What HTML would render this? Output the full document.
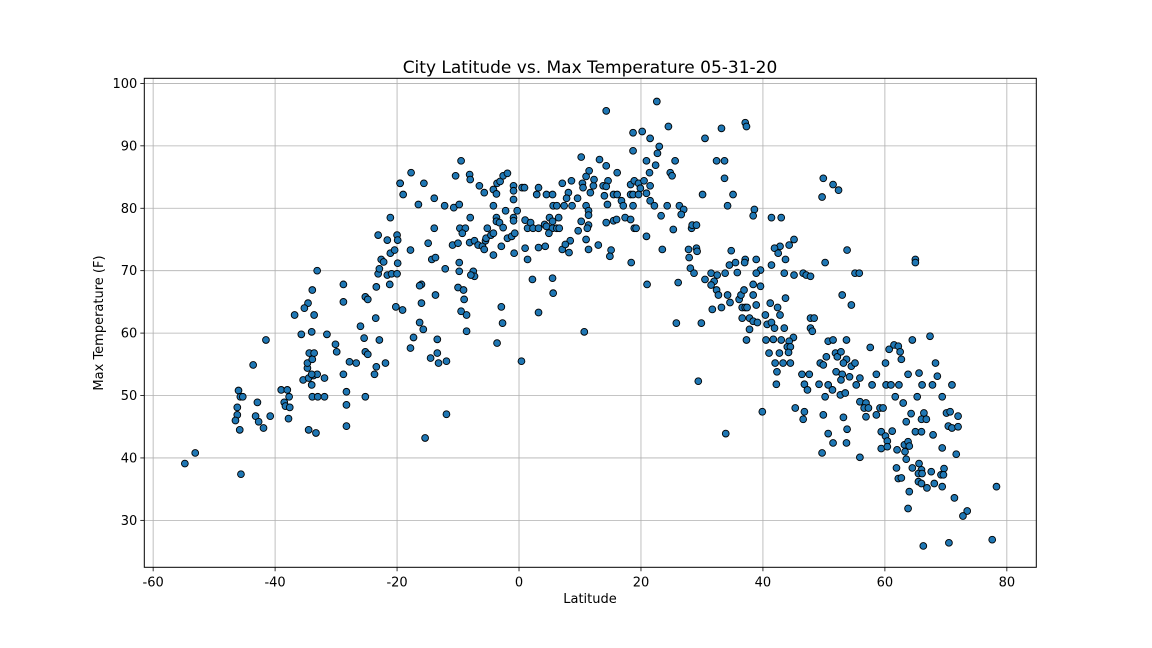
<!DOCTYPE html>
<html><head><meta charset="utf-8"><style>
body{margin:0;background:#fff;}
svg{display:block;font-family:"DejaVu Sans","Liberation Sans",sans-serif;}
</style></head><body>
<svg id="chart" width="1152" height="648" viewBox="0 0 1152 648" xmlns="http://www.w3.org/2000/svg">
<rect width="1152" height="648" fill="#fff"/>
<g id="grid"></g>
<g id="pts"></g>
<rect x="144.3" y="78.3" width="892" height="489" fill="none" stroke="#000" stroke-width="1"/>
<g id="ticks"></g>
<text x="590" y="73" font-size="17" text-anchor="middle">City Latitude vs. Max Temperature 05-31-20</text>
<text x="590" y="603" font-size="13" text-anchor="middle">Latitude</text>
<text x="103" y="323" font-size="13" text-anchor="middle" transform="rotate(-90 103 323)">Max Temperature (F)</text>
</svg>
<script>
const xTicks=[-60,-40,-20,0,20,40,60,80];
const yTicks=[30,40,50,60,70,80,90,100];
const lats=[-54.8,-53.1,-45.6,-46,-45.7,-45.3,-46.2,-46.2,-46.5,-45.8,-43.6,-41.5,-42.9,-43.2,-42.7,-41.9,-40.8,-39,-38,-38.5,-38.3,-37.6,-37.7,-37.8,-34.5,-33.3,-35.4,-34.5,-34,-33.7,-33.1,-34,-31.9,-33.9,-33,-31.9,-34.7,-34.7,-33.9,-34.4,-33.6,-31.5,-35.7,-34,-30.1,-29.9,-28.8,-28.3,-28.3,-28.3,-27.8,-26.7,-28.8,-28.8,-33.1,-33.9,-34.6,-35.2,-33.6,-36.8,-25.2,-25.4,-25.2,-24.8,-26,-23.5,-22.9,-23.4,-23.7,-21.9,-25.2,-24.8,-23.4,-21.2,-23.1,-22.9,-22.6,-22.2,-21.6,-20.9,-20,-19.9,-23.1,-21.6,-21.1,-20.4,-21.1,-20,-19.9,-19.5,-20.2,
-19.1,-19.5,-19,-17.7,-16.5,-15.6,-13.9,-12.2,-10.4,-9.5,-10.7,-9.8,-8.1,-8,-6.5,-5.7,-4.2,-3.7,-3.6,-3.1,-2.6,-1.9,-4.2,-0.9,-0.9,-0.9,-0.3,-2.2,0.5,0.9,2.9,3.2,4.5,5.5,5.6,6.2,7.1,8.1,8.6,7.4,7.8,8.7,9.6,10.2,10.4,10.5,11,11.5,12.2,12.3,11.7,13.2,11,11.4,11.4,11.4,11.2,10.2,9.7,11,11.4,13,8.4,8.2,7.1,7.6,10.7,-13.9,-14.9,-17.8,-14.3,-13.7,-12.1,-9.8,-9.8,-9.7,-8.8,-9.3,-8,
-10.9,-10,-8.1,-7.3,-6.7,-6,-5.7,-5.2,-5.5,-5.4,-4.6,-4.2,-3.7,-3.7,-3.2,-2.6,-1.9,-1.2,-0.7,-0.9,-0.9,-2.9,-4.2,-0.8,1,1.4,1.9,2.3,3.2,4.2,4.5,5,5.5,5.5,6.2,6.5,6.6,4.9,1,1.4,3.2,4.3,2.2,5.5,5.6,3.2,-2.9,-2.7,-3.6,0.4,-7.5,-7.3,-7.9,-10,-9.1,-9,-13.7,-16,-16.3,-16,-9.5,-8.6,-8.6,-16.3,-15.7,-17.3,-17.8,-13.4,-13.4,-14.5,-13.2,-11.9,-11.9,-15.4,
22.6,14.3,18.7,20.2,21.5,23,22.7,22.4,21.4,24.5,18.7,20.9,25.6,24.8,25.1,14.3,16.1,14.6,13.8,14.3,14,14.5,15.5,16.1,16.8,17.1,18.3,18.9,19.6,19.9,20.5,21.5,20.9,18.3,18.7,19.6,18.7,21.5,22.2,24.3,26.3,27,26.6,23.3,14.3,15.5,16,17.4,18.3,18.9,19.2,20.9,25.3,28.3,28.4,29.1,15.1,14.9,18.4,23.5,27.8,29.1,29.2,27.9,28.1,28.7,21,26.1,30.5,33.2,37.1,37.3,32.4,33.7,33.7,35.1,34.2,30.1,38.6,38.4,34.8,34.5,35.5,35.8,33.8,37.1,37,38.9,39.6,38.9,
30.5,31.5,32,31.5,32.5,32.4,32.7,31.7,33.2,34.2,34.6,36.1,36.4,36.9,38.4,39.6,38.4,38.9,36.6,37.1,37.4,36.6,37.8,38.4,39.1,37.8,37.3,25.8,29.9,29.4,33.9,39.9,
49.9,51.5,52.4,49.7,41.4,43,45.1,44.3,42.8,41.9,42.5,43.7,41.4,43.5,45.1,46.6,47.1,47.8,53.8,50.2,55.1,55.8,43.7,41.2,42.4,42.8,40.4,40.7,41.4,41.9,43.5,47.8,48.4,47.8,48.1,53,54.5,40.5,41.7,43,45,44.3,44,44.5,44.2,42.7,41,42,43.3,44.5,42.3,42.2,46.4,47.6,46.8,47.3,49.2,50.7,51.4,50.2,52.7,53.5,
50.7,51.5,53.7,51.9,52.2,52.8,53.7,53.2,54.5,55.1,49.4,49.9,50.4,52,53,52.8,54.2,55.3,55.9,57.9,58.6,60.2,60.1,57.6,60.7,45.3,46.8,46.6,49.9,53.2,53.8,50.7,51.5,53.7,49.7,55.9,56.9,56.6,57.3,56.9,58.6,59.2,59.7,55.9,59.4,60.1,60.4,59.4,
65,65,64.5,67.4,61.5,62.2,62.5,62.7,68.3,63.8,65.6,68.6,61,62.3,66.1,67.8,71,61.7,65.3,69.4,63,64.3,66.4,66,66.8,70.1,70.7,72,63.5,61.2,65,66,67.9,70.4,71,72,60.4,63.2,63.8,64,62,63.3,63.5,69.4,71.7,
61.9,64.5,65.6,66,65.5,66.1,67.6,69.7,69.2,69.6,62.2,62.7,65.5,66,66.9,68.1,69.4,64,71.4,63.8,73.5,72.8,78.3,66.3,70.5,77.6];
const temps=[39.1,40.8,37.4,50.8,49.8,49.8,48.1,46.9,46,44.5,54.9,58.9,48.9,46.7,45.8,44.8,46.7,50.9,50.9,48.9,48.3,48.1,49.8,46.3,44.5,44,52.5,52.8,51.7,53.2,53.4,53.4,52.8,49.8,49.8,49.8,54.4,55.2,55.8,56.8,56.8,59.8,59.8,60.2,58.2,57,53.4,50.6,48.5,45.1,55.4,55.2,65,67.8,70,66.9,64.8,64,62.9,62.9,49.8,59.2,57,56.6,61.1,62.4,58.9,54.6,53.4,55.2,65.8,65.4,67.4,67.8,69.5,70.3,71.8,71.4,69.3,69.5,69.5,71.2,75.7,74.9,72.8,73.3,78.5,75.7,74.9,84,64.2,
63.7,84,82.2,85.7,80.6,84,81.6,80.4,85.2,87.6,80.1,80.6,85.4,84.6,83.6,82.5,83,82.3,84,84.3,85.2,85.6,80.4,83.6,82.8,81.4,79.6,79.6,83.3,83.3,82.2,83.3,82.2,82.2,80.4,80.4,84,82.5,84.4,80.4,81.6,80.4,81.6,88.2,84,83.3,85.1,86,83.6,84.6,82.5,87.8,80.4,79.6,78.9,77.3,76.8,77.9,76.4,75,73.4,74.1,74.8,72.9,73.4,74.2,60.2,76.8,74.4,73.3,71.8,72.1,70.3,71.3,69.9,76.8,76.8,76,78.5,
74.1,74.4,74.5,74.8,74.1,73.9,73.4,76.8,74.8,75.2,75.7,76,78.5,77.9,77.7,76.9,75.2,75.5,76,78.5,78,73.9,72.5,72.8,78.1,76.8,77.7,76.8,76.8,77.4,77.1,78.5,76.8,77.9,76.8,78.5,76.8,76,73.6,71.8,73.7,73.9,68.6,68.8,66.4,63.3,64.2,61.6,58.4,55.5,69.9,69.1,69.3,67.3,66.9,65.4,66.1,67.8,67.6,64.8,63.5,62.9,60.3,61.7,60.6,59.3,57.6,59,56.8,56,55.2,55.5,47,43.2,
97.1,95.6,92.1,92.3,91.2,89.9,88.8,86.9,85.7,93.1,89.2,87.6,87.6,85.7,85.2,86.8,85.7,84.4,83.6,83.5,82,80.6,82.2,82.2,81.2,80.4,83.8,84.4,84,83.2,84.4,83.6,82.4,82.2,82.2,82.2,80.4,81.2,80.4,80.4,80.4,79.8,79,78.8,77.7,78,78.2,78.5,78.2,76.8,76.8,75.5,76.6,76.8,77.3,77.3,73.3,72.3,71.3,73.4,73.4,73.6,73.1,72.1,70.4,69.6,67.8,68.1,91.2,92.8,93.7,93.1,87.6,87.6,84.8,82.2,80.4,82.2,79.8,78.8,73.2,70.9,71.3,69.7,69.6,71.8,71.3,71.8,70.1,69.6,
68.6,69.6,68.3,67.7,69.3,66.9,66.1,63.8,64.1,66.1,64.9,65.4,66.1,66.9,67.8,67.5,66.1,64.5,64.1,64.1,64.1,62.4,62.4,61.9,61.7,60.6,58.9,61.6,61.6,52.3,43.9,47.4,
84.8,83.8,82.9,81.8,78.5,78.5,75,74.1,73.9,73.6,72.8,71.8,70.9,69.6,69.3,69.6,69.3,69.1,73.3,71.3,69.6,69.6,65.6,64.8,64.1,62.9,62.9,61.4,61.7,60.8,60.8,62.4,62.4,60.8,60.3,66.1,64.5,58.9,59,58.9,59.3,58.7,57.8,57.8,56.9,56.8,56.8,55.2,55.2,55.2,53.8,51.8,53.4,53.4,51.8,50.9,51.8,51.7,50.9,49.8,50.1,50.4,
58.7,58.9,58.9,56.8,56.2,57,55.8,55.2,54.7,55.2,55.2,54.9,56.2,53.8,53.4,52.5,53,51.7,52.8,51.7,53.4,51.7,55.2,57.7,57.4,48,47.4,46.2,46.9,46.5,44.6,43.9,42.4,42.4,40.8,49,48.8,48,48,46.6,46.9,48,48,40.1,44.2,43.5,42.7,41.5,
71.8,71.3,58.9,59.5,58.1,57.9,57,55.8,55.2,53.4,53.6,53.1,51.7,51.7,51.7,51.7,51.7,49.8,49.8,49.8,48.8,47.1,47.2,46.2,46.2,47.2,47.4,46.7,45.8,44.3,44.2,44.2,43.7,45.1,44.8,45,41.8,42.1,42.6,41.9,41.3,41,39.8,41.6,40.6,
38.4,38.4,39.1,38.1,37.5,37.5,37.8,38.3,37.3,37.3,36.7,36.8,36.2,35.9,35.2,35.9,35.4,34.6,33.6,31.9,31.5,30.7,35.4,25.9,26.4,26.9];

const L=144.3,T=78.3,W=892,H=489;
const xmin=-61.45,xmax=84.83,ymin=22.48,ymax=100.82;
function xs(v){return L+(v-xmin)/(xmax-xmin)*W;}
function ys(v){return T+H-(v-ymin)/(ymax-ymin)*H;}
const NS="http://www.w3.org/2000/svg";
const grid=document.getElementById('grid'),tk=document.getElementById('ticks'),pts=document.getElementById('pts');
function mk(tag,attrs,parent){const e=document.createElementNS(NS,tag);for(const k in attrs)e.setAttribute(k,attrs[k]);parent.appendChild(e);return e;}
xTicks.forEach(v=>{
  const x=xs(v);
  const g=mk('line',{x1:x,x2:x,y1:T,y2:T+H,stroke:'#b0b0b0','stroke-width':0.8},grid);
  
  
  const t=mk('line',{x1:x,x2:x,y1:T+H,y2:T+H+4,stroke:'#000','stroke-width':0.8},tk);
  
  
  const lb=mk('text',{x:x,y:T+H+19,'font-size':13,'text-anchor':'middle'},tk);
  lb.textContent=v;
  
  
});
yTicks.forEach(v=>{
  const y=ys(v);
  const g=mk('line',{x1:L,x2:L+W,y1:y,y2:y,stroke:'#b0b0b0','stroke-width':0.8},grid);
  
  
  const t=mk('line',{x1:L-4,x2:L,y1:y,y2:y,stroke:'#000','stroke-width':0.8},tk);
  
  
  const lb=mk('text',{x:L-7,y:y+4.5,'font-size':13,'text-anchor':'end'},tk);
  lb.textContent=v;
  
  
});
const n=Math.min(lats.length,temps.length);
for(let i=0;i<n;i++){
  const c=mk('circle',{cx:xs(lats[i]),cy:ys(temps[i]),r:3.4,fill:'#1f77b4',stroke:'#000','stroke-width':0.9},pts);
  
  
}
</script>
</body></html>
